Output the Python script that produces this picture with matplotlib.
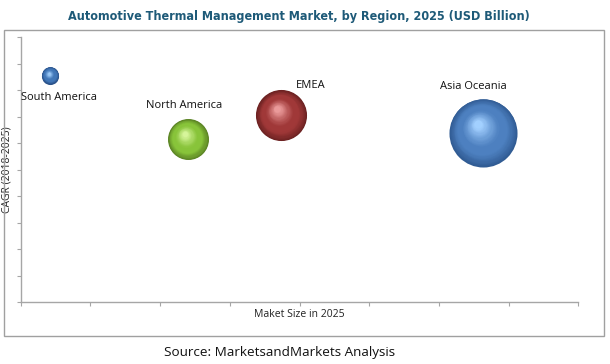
import numpy as np
import matplotlib
matplotlib.use("Agg")
import matplotlib.pyplot as plt
from matplotlib.colors import to_rgb
from matplotlib.patches import Rectangle
from matplotlib.transforms import offset_copy

# ---------------------------------------------------------------
# Data (arbitrary units)
# ---------------------------------------------------------------
regions = ["South America", "North America", "EMEA", "Asia Oceania"]
market_size = [2.1, 12.0, 18.7, 33.2]     # USD billion, 2025
cagr = [8.55, 6.15, 7.05, 6.4]             # CAGR 2018-2025
base_colors = ["#4177b8", "#88c43a", "#a03838", "#4d80c0"]
edge_colors = ["#2a528a", "#5a8224", "#6c2222", "#315c94"]
high_colors = ["#9ccaf8", "#d6f59a", "#ea9a9a", "#a2d0ff"]
label_offsets = [(6.5, -16), (-2.7, 24.3), (21, 21.5), (-7, 33)]  # points

size_scale = 72.3  # marker area (pt^2) per billion

fig = plt.figure(figsize=(6.1, 3.64), dpi=100)
ax = fig.add_axes([0.034, 0.170, 0.914, 0.728])

# outer grey frame around the plot
fig.patches.append(Rectangle((0.0066, 0.078), 0.984, 0.840, transform=fig.transFigure,
                             fill=False, edgecolor="#a0a0a0", linewidth=1.0))


def blend(c1, c2, t):
    a, b = np.array(to_rgb(c1)), np.array(to_rgb(c2))
    return tuple(a + (b - a) * t)


# --- spheres: stacked discs shifting towards the highlight ---
n_layers = 40
for x, y, m, base, edge, high in zip(market_size, cagr, market_size,
                                     base_colors, edge_colors, high_colors):
    s = m * size_scale
    r = np.sqrt(s) / 2.0
    for k in range(n_layers):
        t = k / (n_layers - 1)
        frac = 1.0 - 0.88 * t
        if t < 0.3:
            col = blend(edge, base, t / 0.3)
        elif t < 0.5:
            col = base
        else:
            col = blend(base, high, ((t - 0.5) / 0.5) ** 1.2)
        tr = offset_copy(ax.transData, fig=fig, x=-0.16 * r * t, y=0.24 * r * t, units="points")
        ax.scatter([x], [y], s=s * frac ** 2, color=col, linewidths=0,
                   transform=tr, zorder=3 + k * 0.01)

for name, x, y, (dx, dy) in zip(regions, market_size, cagr, label_offsets):
    ax.annotate(name, xy=(x, y), xytext=(dx, dy), textcoords="offset points",
                ha="center", va="center", fontsize=8, family=["Open Sans", "DejaVu Sans"],
                color="#111111")

# --- axes styling ---
ax.set_xlim(0, 40)
ax.set_ylim(0, 10)
ax.set_xticks(np.arange(0, 41, 5))
ax.set_yticks(np.arange(0, 11, 1))
ax.tick_params(axis="both", direction="out", length=3, width=0.8, color="#a6a6a6",
               labelleft=False, labelbottom=False)
for side in ["top", "right"]:
    ax.spines[side].set_visible(False)
for side in ["left", "bottom"]:
    ax.spines[side].set_color("#a6a6a6")
    ax.spines[side].set_linewidth(1.0)

ax.set_xlabel("Maket Size in 2025", fontsize=7.5, family=["Open Sans", "DejaVu Sans"],
              color="#222222", labelpad=2)
ax.set_ylabel("CAGR (2018-2025)", fontsize=7.5, family=["Open Sans", "DejaVu Sans"],
              color="#222222", labelpad=0)
ax.yaxis.set_label_coords(-0.014, 0.5)

title = fig.text(0.49, 0.955, "Automotive Thermal Management Market, by Region, 2025 (USD Billion)",
                 ha="center", va="center", fontsize=12, fontweight="bold", color="#1e5a78",
                 family="DejaVu Sans", fontstretch="condensed")
fig.text(0.458, 0.031, "Source: MarketsandMarkets Analysis", ha="center", va="center",
         fontsize=9.7, family=["Open Sans", "DejaVu Sans"], color="#111111")

# shrink the title until it fits the reference width (~460 px)
renderer = fig.canvas.get_renderer()
for _ in range(20):
    w = title.get_window_extent(renderer).width
    if w <= 462:
        break
    title.set_fontsize(title.get_fontsize() * 460.0 / w)

fig.savefig("out.png", dpi=100)
plt.close(fig)
